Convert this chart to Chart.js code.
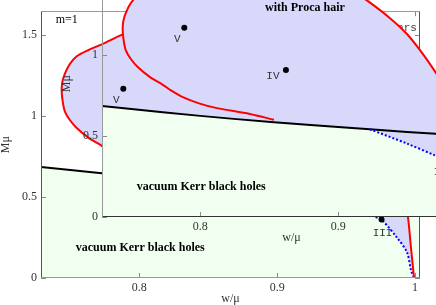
<!DOCTYPE html>
<html><head><meta charset="utf-8">
<script src="https://cdn.jsdelivr.net/npm/chart.js@4/dist/chart.umd.min.js"></script>
<style>
html,body{margin:0;padding:0;background:#fff;overflow:hidden;width:436px;height:305px;}
#wrap{position:relative;width:436px;height:305px;overflow:hidden;background:#fff;}
canvas{position:absolute;}
#main{left:0;top:0;}
#inset{left:61px;top:-61px;}
</style></head><body>
<div id="wrap"><canvas id="main" width="436" height="305"></canvas><canvas id="inset" width="436" height="305"></canvas></div>
<script>
// ---- data (w/mu , M mu) ----
const xTicks = [0.8, 0.9, 1];
const yTicks = [0, 0.5, 1, 1.5];
// extremal Kerr line
const kerrW = [0.7287, 0.75, 0.7728, 0.80, 0.8221, 0.8534, 0.88, 0.90, 0.923, 0.95, 0.9709, 1.0, 1.0036];
const kerrM = [0.686, 0.667, 0.647, 0.625, 0.608, 0.586, 0.568, 0.556, 0.542, 0.526, 0.515, 0.5, 0.498];
// Proca star spiral (red)
const starW = [0.9993, 0.9971, 0.9949, 0.9920, 0.9876, 0.9818, 0.9768, 0.9709, 0.9615, 0.9499, 0.9376, 0.9216,
  0.9056, 0.8875, 0.8657, 0.8439, 0.8221, 0.8040, 0.7880, 0.7728, 0.7633, 0.7546, 0.7495, 0.7459, 0.7441, 0.7437,
  0.7444, 0.7459, 0.7495, 0.7546, 0.7633, 0.7728, 0.7790, 0.7873, 0.7996, 0.8120, 0.8359, 0.8534];
const starM = [0, 0.183, 0.374, 0.509, 0.632, 0.737, 0.810, 0.891, 1.007, 1.131, 1.229, 1.334,
  1.426, 1.506, 1.561, 1.586, 1.580, 1.549, 1.506, 1.444, 1.410, 1.371, 1.321, 1.260, 1.208, 1.155,
  1.093, 1.032, 0.978, 0.927, 0.866, 0.817, 0.781, 0.741, 0.701, 0.673, 0.637, 0.601];
// existence line of Proca clouds (blue dotted)
const cloudW = [0.923, 0.9499, 0.9709, 0.9757, 0.9869, 0.9942, 0.9971, 0.9993];
const cloudM = [0.542, 0.454, 0.378, 0.360, 0.250, 0.158, 0.047, 0];
// marked solutions
const pointNames = ['III', 'IV', 'V'];
const pointW = [0.9757, 0.8621, 0.7884];
const pointM = [0.362, 0.909, 1.170];

const xy = (W, M) => W.map((w, i) => ({x: w, y: M[i]}));
const star = xy(starW, starM);
const kerr = xy(kerrW, kerrM);
const cloud = xy(cloudW, cloudM);
const domain = star
  .concat(kerr.filter(p => p.x > starW[starW.length - 1] && p.x < cloudW[0]))
  .concat(cloud);

const GREEN = 'rgb(240,255,240)';
const BLUE = 'rgb(216,216,250)';
const SERIF = '"Liberation Serif", "Times New Roman", serif';
const MONO = '"Liberation Mono", "Courier New", monospace';

const notes = [
  {text: 'm=1', w: 0.7474, M: 1.598, font: '12px ' + SERIF, color: '#000', align: 'center'},
  {text: 'vacuum Kerr black holes', w: 0.8007, M: 0.189, font: 'bold 12px ' + SERIF, color: '#000', align: 'center'},
  {text: 'with Proca hair', w: 0.8759, M: 1.290, font: 'bold 12px ' + SERIF, color: '#000', align: 'center'},
  {text: 'Proca stars', w: 1.0014, M: 1.543, font: '11px ' + MONO, color: '#444', align: 'right'}
];
const labelOffsets = {III: [1, 14], IV: [-13, 6], V: [-7, 11]};

const framePlugin = {
  id: 'frame',
  afterDatasetsDraw(chart, args, o) {
    const {ctx, chartArea: a, scales: {x, y}} = chart;
    ctx.save();
    ctx.lineWidth = 1;
    ctx.strokeStyle = '#888';
    ctx.beginPath();
    xTicks.forEach(v => {
      const px = Math.round(x.getPixelForValue(v)) + 0.5;
      ctx.moveTo(px, a.bottom); ctx.lineTo(px, a.bottom - 5);
      ctx.moveTo(px, a.top); ctx.lineTo(px, a.top + 5);
    });
    yTicks.forEach(v => {
      const py = Math.round(y.getPixelForValue(v)) + 0.5;
      ctx.moveTo(a.left, py); ctx.lineTo(a.left + 5, py);
      ctx.moveTo(a.right, py); ctx.lineTo(a.right - 5, py);
    });
    ctx.stroke();
    const L = Math.round(a.left) + 0.5, R = Math.round(a.right) - 0.5,
          T = Math.round(a.top) + 0.5, B = Math.round(a.bottom) - 0.5;
    const seg = (c, x1, y1, x2, y2) => { ctx.strokeStyle = c; ctx.beginPath(); ctx.moveTo(x1, y1); ctx.lineTo(x2, y2); ctx.stroke(); };
    seg(o.top, L, T, R, T);
    seg(o.bottom, L, B, R, B);
    seg(o.left, L, T, L, B);
    seg(o.right, R, T, R, B);
    ctx.textBaseline = 'middle';
    notes.forEach(n => {
      ctx.font = n.font; ctx.fillStyle = n.color; ctx.textAlign = n.align;
      ctx.fillText(n.text, x.getPixelForValue(n.w), y.getPixelForValue(n.M));
    });
    ctx.font = '11px ' + MONO; ctx.fillStyle = '#333'; ctx.textAlign = 'center';
    pointNames.forEach((nm, i) => {
      const d = labelOffsets[nm];
      ctx.fillText(nm, x.getPixelForValue(pointW[i]) + d[0], y.getPixelForValue(pointM[i]) + d[1]);
    });
    ctx.restore();
  }
};

function makeChart(id, frame) {
  const tickFont = {family: SERIF, size: 12};
  return new Chart(document.getElementById(id), {
    type: 'line',
    data: {
      datasets: [
        {data: kerr, fill: 'origin', backgroundColor: GREEN, borderColor: 'rgba(0,0,0,0)', borderWidth: 0, pointRadius: 0, order: 10},
        {data: domain, fill: 'shape', backgroundColor: BLUE, borderColor: 'rgba(0,0,0,0)', borderWidth: 0, pointRadius: 0, tension: 0.3, order: 9},
        {data: kerr, fill: false, borderColor: '#000', borderWidth: 2, pointRadius: 0, order: 5},
        {data: cloud, fill: false, borderColor: '#0000ff', borderWidth: 2, borderDash: [2, 2], pointRadius: 0, tension: 0.3, order: 4},
        {data: star, fill: false, borderColor: '#ff0000', borderWidth: 2, pointRadius: 0, tension: 0.3, order: 3},
        {data: xy(pointW, pointM), showLine: false, pointRadius: 3, pointBackgroundColor: '#000', pointBorderWidth: 0, order: 1}
      ]
    },
    options: {
      responsive: false, animation: false, devicePixelRatio: 1,
      layout: {padding: {top: 10, right: 16, left: 0, bottom: 0}},
      plugins: {legend: {display: false}, tooltip: {enabled: false}, frame: frame},
      scales: {
        x: {type: 'linear', min: 0.7287, max: 1.0036,
          afterBuildTicks: s => { s.ticks = xTicks.map(v => ({value: v})); },
          afterFit: s => { s.height = 27; },
          grid: {display: false, drawTicks: false}, border: {display: false},
          ticks: {padding: 3, color: '#333', font: tickFont, autoSkip: false, maxRotation: 0, callback: v => String(v)},
          title: {display: true, text: 'w/μ', color: '#333', font: {family: SERIF, size: 12, lineHeight: 1}, padding: 0}},
        y: {type: 'linear', min: 0, max: 1.649,
          afterBuildTicks: s => { s.ticks = yTicks.map(v => ({value: v})); },
          afterFit: s => { s.width = 41; },
          grid: {display: false, drawTicks: false}, border: {display: false},
          ticks: {padding: 4, color: '#333', font: tickFont, autoSkip: false, callback: v => String(v)},
          title: {display: true, text: 'Mμ', color: '#333', font: {family: SERIF, size: 12, lineHeight: 1}, padding: 0}}
      }
    },
    plugins: [framePlugin]
  });
}
makeChart('main', {top: '#999', bottom: '#999', left: '#555', right: '#555'});
makeChart('inset', {top: '#999', bottom: '#333', left: '#999', right: '#555'});
</script>
</body></html>
